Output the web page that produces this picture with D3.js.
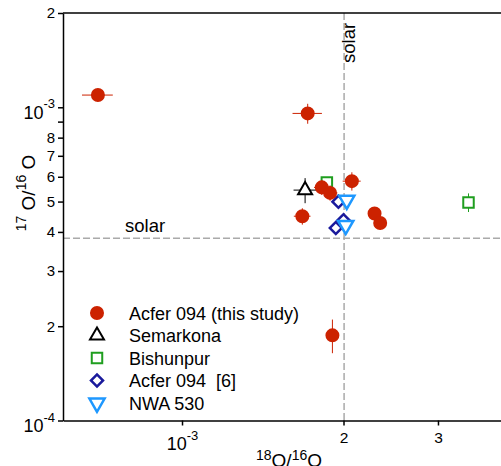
<!DOCTYPE html>
<html>
<head>
<meta charset="utf-8">
<script src="https://cdn.jsdelivr.net/npm/d3@7"></script>
<style>
  body { margin: 0; background: #fff; }
  svg { font-family: "Liberation Sans", Arial, sans-serif; }
</style>
</head>
<body>
<div id="chart"></div>
<script>
// -----------------------------------------------------------------------
// DATA
// -----------------------------------------------------------------------

// Acfer 094 (this study)
var acferX    = [6.97e-4, 1.715e-3, 2.073e-3, 1.822e-3, 1.888e-3, 1.676e-3, 2.285e-3, 2.341e-3, 1.907e-3];
var acferY    = [1.094e-3, 9.56e-4, 5.81e-4, 5.55e-4, 5.33e-4, 4.49e-4, 4.58e-4, 4.27e-4, 1.87e-4];
var acferXErr = [4.6e-5, 1.08e-4, 8e-5, 6e-5, 6e-5, 6e-5, 5e-5, 5e-5, 3e-5];
var acferYErr = [2e-5, 7e-5, 3.9e-5, 3e-5, 3e-5, 2.7e-5, 2e-5, 2e-5, 2.3e-5];

// Semarkona
var semarkonaX    = [1.696e-3];
var semarkonaY    = [5.44e-4];
var semarkonaXErr = [8.2e-5];
var semarkonaYErr = [5.0e-5];

// Bishunpur
var bishunpurX    = [1.862e-3, 3.42e-3];
var bishunpurY    = [5.75e-4, 4.97e-4];
var bishunpurXErr = [3e-5, 3e-5];
var bishunpurYErr = [2e-5, 3.4e-5];

// Acfer 094 [6]
var acfer6X = [1.957e-3, 2.0e-3, 1.935e-3];
var acfer6Y = [4.99e-4, 4.36e-4, 4.12e-4];

// NWA 530
var nwaX = [2.028e-3, 2.019e-3];
var nwaY = [5.05e-4, 4.2e-4];

// solar reference values
var solarX = 2.005e-3;
var solarY = 3.82e-4;

// axes
var xTicks      = [1e-3, 2e-3, 3e-3, 4e-3];
var xTickLabels = ['10^-3', '2', '3', '4'];
var yTicks      = [1e-4, 2e-4, 3e-4, 4e-4, 5e-4, 6e-4, 7e-4, 8e-4, 9e-4, 1e-3, 2e-3];
var yTickLabels = ['10^-4', '2', '3', '4', '5', '6', '7', '8', '', '10^-3', '2'];

var legendNames = ['Acfer 094 (this study)', 'Semarkona', 'Bishunpur', 'Acfer 094  [6]', 'NWA 530'];

// -----------------------------------------------------------------------
// CHART
// -----------------------------------------------------------------------

var width = 501, height = 466;
var plot = { left: 63, top: 13, right: 505, bottom: 420.5 };

var colors = {
  red: '#cc2200',
  black: '#000000',
  green: '#1f9e1f',
  navy: '#1a1a9c',
  sky: '#1e98ff'
};

var svg = d3.select('#chart').append('svg')
  .attr('width', width)
  .attr('height', height);

var x = d3.scaleLog()
  .domain([6e-4, 4e-3])
  .range([plot.left, plot.right]);

var y = d3.scaleLog()
  .domain([1e-4, 2e-3])
  .range([plot.bottom, plot.top]);

// turn "10^-3" into 10 with a raised exponent
function powerLabels(sel, lowerBy) {
  sel.selectAll('.tick text').each(function() {
    var t = d3.select(this);
    var s = t.text();
    if (s.indexOf('^') < 0) return;
    var parts = s.split('^');
    t.text(null)
      .attr('dy', null)
      .attr('y', +t.attr('y') + lowerBy);
    t.append('tspan').text(parts[0]).style('font-size', '18px');
    t.append('tspan').text(parts[1]).style('font-size', '13px').attr('dy', '-0.8em');
  });
}

// solar guide lines first so they sit behind the data
svg.append('line')
  .attr('x1', plot.left).attr('x2', plot.right)
  .attr('y1', y(solarY)).attr('y2', y(solarY))
  .attr('stroke', '#aaaaaa').attr('stroke-width', 1.5)
  .attr('stroke-dasharray', '7,3');

svg.append('line')
  .attr('x1', x(solarX)).attr('x2', x(solarX))
  .attr('y1', plot.top).attr('y2', plot.bottom)
  .attr('stroke', '#aaaaaa').attr('stroke-width', 1.5)
  .attr('stroke-dasharray', '7,3');

svg.append('text')
  .attr('x', 125).attr('y', 232)
  .style('font-size', '18.5px')
  .text('solar');

svg.append('text')
  .attr('transform', 'translate(355,63) rotate(-90)')
  .style('font-size', '18.5px')
  .text('solar');

// axes
var xAxis = d3.axisBottom(x)
  .tickValues(xTicks)
  .tickFormat(function(d, i) { return xTickLabels[i]; })
  .tickSizeInner(5)
  .tickSizeOuter(0)
  .tickPadding(6);

var gx = svg.append('g')
  .attr('transform', 'translate(0,' + plot.bottom + ')')
  .call(xAxis);
gx.selectAll('text').style('font-size', '15.5px').attr('fill', '#000');
powerLabels(gx, 18.5);

var yAxis = d3.axisLeft(y)
  .tickValues(yTicks)
  .tickFormat(function(d, i) { return yTickLabels[i]; })
  .tickSizeInner(5)
  .tickSizeOuter(0)
  .tickPadding(3);

var gy = svg.append('g')
  .attr('transform', 'translate(' + plot.left + ',0)')
  .call(yAxis);
gy.selectAll('text').style('font-size', '15px').attr('fill', '#000');
powerLabels(gy, 11);

svg.selectAll('.domain, .tick line').attr('stroke', '#000').attr('stroke-width', 1.5);

// top frame line
svg.append('line')
  .attr('x1', plot.left).attr('x2', plot.right)
  .attr('y1', plot.top).attr('y2', plot.top)
  .attr('stroke', '#000').attr('stroke-width', 1.5);

// axis titles
var xTitle = svg.append('text')
  .attr('x', 289).attr('y', 467)
  .attr('text-anchor', 'middle')
  .style('font-size', '19px');
xTitle.append('tspan').text('18').style('font-size', '14px').attr('dy', '-7');
xTitle.append('tspan').text('O/').attr('dy', '7');
xTitle.append('tspan').text('16').style('font-size', '14px').attr('dy', '-7');
xTitle.append('tspan').text('O').attr('dy', '7');

var yTitle = svg.append('text')
  .attr('transform', 'translate(35,193) rotate(-90)')
  .attr('text-anchor', 'middle')
  .style('font-size', '19px');
yTitle.append('tspan').text('17').style('font-size', '14px').attr('dy', '-9');
yTitle.append('tspan').text(' O/').attr('dy', '9');
yTitle.append('tspan').text('16').style('font-size', '14px').attr('dy', '-9');
yTitle.append('tspan').text(' O').attr('dy', '9');

// -----------------------------------------------------------------------
// MARKS
// -----------------------------------------------------------------------

function zip(xs, ys, xe, ye) {
  return xs.map(function(v, i) {
    return { x: v, y: ys[i], xe: xe ? xe[i] : 0, ye: ye ? ye[i] : 0 };
  });
}

function errorBars(data, color) {
  var g = svg.append('g').attr('stroke', color).attr('stroke-width', 1);
  g.selectAll('line.h').data(data.filter(function(d) { return d.xe; }))
    .enter().append('line')
    .attr('x1', function(d) { return x(d.x - d.xe); })
    .attr('x2', function(d) { return x(d.x + d.xe); })
    .attr('y1', function(d) { return y(d.y); })
    .attr('y2', function(d) { return y(d.y); });
  g.selectAll('line.v').data(data.filter(function(d) { return d.ye; }))
    .enter().append('line')
    .attr('x1', function(d) { return x(d.x); })
    .attr('x2', function(d) { return x(d.x); })
    .attr('y1', function(d) { return y(d.y - d.ye); })
    .attr('y2', function(d) { return y(d.y + d.ye); });
}

// marker shapes, shared with the legend (hollow ones get a white fill)
var shapes = [
  { type: d3.symbolCircle,   size: 154, rot: 0,   fill: colors.red, stroke: 'none',       sw: 0 },
  { type: d3.symbolTriangle, size: 85,  rot: 0,   fill: '#fff',     stroke: colors.black, sw: 2 },
  { type: d3.symbolSquare,   size: 110, rot: 0,   fill: '#fff',     stroke: colors.green, sw: 2 },
  { type: d3.symbolSquare,   size: 72,  rot: 45,  fill: '#fff',     stroke: colors.navy,  sw: 2.5 },
  { type: d3.symbolTriangle, size: 100, rot: 180, fill: '#fff',     stroke: colors.sky,   sw: 2.5 }
];

function drawMarker(sel, shape) {
  sel.attr('d', d3.symbol().type(shape.type).size(shape.size))
    .attr('fill', shape.fill)
    .attr('stroke', shape.stroke)
    .attr('stroke-width', shape.sw);
}

function drawSeries(data, shape, color) {
  errorBars(data, color);
  svg.append('g').selectAll('path').data(data)
    .enter().append('path')
    .attr('transform', function(d) {
      return 'translate(' + x(d.x) + ',' + y(d.y) + ') rotate(' + shape.rot + ')';
    })
    .call(drawMarker, shape);
}

drawSeries(zip(bishunpurX, bishunpurY, bishunpurXErr, bishunpurYErr), shapes[2], colors.green);
drawSeries(zip(acfer6X, acfer6Y), shapes[3], colors.navy);
drawSeries(zip(nwaX, nwaY), shapes[4], colors.sky);
drawSeries(zip(semarkonaX, semarkonaY, semarkonaXErr, semarkonaYErr), shapes[1], colors.black);
drawSeries(zip(acferX, acferY, acferXErr, acferYErr), shapes[0], colors.red);

// -----------------------------------------------------------------------
// LEGEND
// -----------------------------------------------------------------------

var legend = svg.append('g');
legendNames.forEach(function(name, i) {
  var ly = 313 + i * 22.5;
  legend.append('path')
    .attr('transform', 'translate(97,' + ly + ') rotate(' + shapes[i].rot + ')')
    .call(drawMarker, shapes[i]);
  legend.append('text')
    .attr('x', 129).attr('y', ly + 6.5)
    .style('font-size', '18px')
    .style('white-space', 'pre')
    .text(name);
});
</script>
</body>
</html>
